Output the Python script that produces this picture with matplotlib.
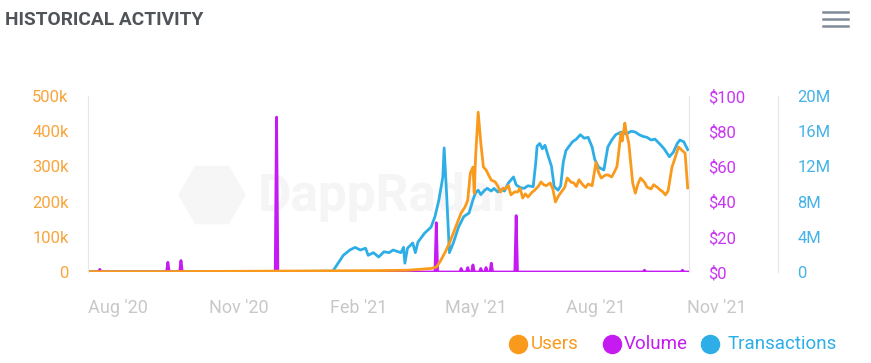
import matplotlib
matplotlib.use("Agg")
import matplotlib.pyplot as plt
import matplotlib.dates as mdates
import matplotlib.transforms as mtransforms
from matplotlib.lines import Line2D
from matplotlib.patches import RegularPolygon
import pandas as pd

plt.rcParams['font.family'] = ['Roboto', 'DejaVu Sans']

# ---- data ----
users_dates = ['2020-07-09', '2020-09-01', '2020-11-01', '2021-01-01', '2021-02-15',
               '2021-03-10', '2021-03-28', '2021-04-01', '2021-04-04', '2021-04-08',
               '2021-04-11', '2021-04-15', '2021-04-20', '2021-04-23', '2021-04-25',
               '2021-04-27', '2021-04-29', '2021-04-30', '2021-05-01', '2021-05-03',
               '2021-05-05', '2021-05-07', '2021-05-09', '2021-05-11', '2021-05-13',
               '2021-05-16', '2021-05-18', '2021-05-20', '2021-05-22', '2021-05-24',
               '2021-05-26', '2021-05-28', '2021-05-31', '2021-06-02', '2021-06-04',
               '2021-06-06', '2021-06-08', '2021-06-10', '2021-06-13', '2021-06-15',
               '2021-06-18', '2021-06-20', '2021-06-22', '2021-06-24', '2021-06-27',
               '2021-06-29', '2021-07-01', '2021-07-03', '2021-07-05', '2021-07-08',
               '2021-07-10', '2021-07-13', '2021-07-15', '2021-07-17', '2021-07-19',
               '2021-07-22', '2021-07-24', '2021-07-26', '2021-07-29', '2021-08-01',
               '2021-08-03', '2021-08-05', '2021-08-08', '2021-08-10', '2021-08-13',
               '2021-08-15', '2021-08-17', '2021-08-18', '2021-08-20', '2021-08-21',
               '2021-08-23', '2021-08-24', '2021-08-26', '2021-08-29', '2021-08-31',
               '2021-09-02', '2021-09-04', '2021-09-07', '2021-09-09', '2021-09-12',
               '2021-09-14', '2021-09-17', '2021-09-19', '2021-09-21', '2021-09-23',
               '2021-09-25', '2021-09-28', '2021-09-30', '2021-10-03', '2021-10-05',
               '2021-10-08', '2021-10-10']
users = [1, 1, 2, 3, 4,
         5, 10, 14, 30, 58,
         82, 120, 168, 185, 204,
         281, 298, 224, 327, 454,
         366, 298, 290, 275, 261,
         256, 244, 227, 238, 236,
         246, 219, 228, 227, 238,
         210, 222, 213, 226, 232,
         244, 256, 248, 245, 253,
         236, 199, 214, 225, 240,
         267, 255, 253, 243, 262,
         247, 240, 250, 245, 312,
         282, 267, 275, 276, 270,
         284, 300, 330, 395, 372,
         423, 400, 366, 253, 224,
         250, 267, 255, 241, 236,
         248, 240, 233, 228, 219,
         230, 298, 320, 355, 348,
         338, 239]

tx_dates = ['2020-07-09', '2020-12-01', '2021-01-12', '2021-01-16', '2021-01-20',
            '2021-01-25', '2021-01-29', '2021-02-02', '2021-02-06', '2021-02-08',
            '2021-02-12', '2021-02-16', '2021-02-20', '2021-02-24', '2021-02-27',
            '2021-03-05', '2021-03-07', '2021-03-08', '2021-03-10', '2021-03-14',
            '2021-03-16', '2021-03-18', '2021-03-23', '2021-03-28', '2021-03-31',
            '2021-04-03', '2021-04-06', '2021-04-07', '2021-04-09', '2021-04-11',
            '2021-04-14', '2021-04-18', '2021-04-22', '2021-04-26', '2021-04-29',
            '2021-05-01', '2021-05-03', '2021-05-05', '2021-05-08', '2021-05-10',
            '2021-05-13', '2021-05-15', '2021-05-18', '2021-05-21', '2021-05-23',
            '2021-05-26', '2021-05-30', '2021-06-01', '2021-06-04', '2021-06-07',
            '2021-06-10', '2021-06-14', '2021-06-16', '2021-06-17', '2021-06-19',
            '2021-06-21', '2021-06-23', '2021-06-25', '2021-06-28', '2021-06-30',
            '2021-07-03', '2021-07-05', '2021-07-07', '2021-07-09', '2021-07-11',
            '2021-07-14', '2021-07-17', '2021-07-20', '2021-07-23', '2021-07-26',
            '2021-07-29', '2021-07-31', '2021-08-03', '2021-08-07', '2021-08-10',
            '2021-08-13', '2021-08-16', '2021-08-20', '2021-08-24', '2021-08-28',
            '2021-08-31', '2021-09-03', '2021-09-06', '2021-09-09', '2021-09-12',
            '2021-09-15', '2021-09-19', '2021-09-22', '2021-09-26', '2021-09-29',
            '2021-10-02', '2021-10-04', '2021-10-07', '2021-10-10']
transactions = [0.03, 0.05, 0.1, 1.0, 1.9,
                2.5, 2.8, 2.5, 2.7, 1.9,
                2.2, 1.7, 2.3, 2.2, 2.5,
                2.2, 2.8, 1.0, 2.7, 3.3,
                2.2, 3.4, 4.4, 5.1, 6.3,
                8.2, 10.8, 14.1, 8.5, 2.2,
                3.3, 5.1, 6.3, 6.7, 8.2,
                9.0, 9.3, 8.8, 9.3, 9.5,
                9.2, 9.5, 9.1, 9.4, 9.2,
                10.1, 10.8, 9.9, 9.6, 9.5,
                9.8, 9.7, 12.5, 14.3, 14.6,
                14.0, 14.4, 13.4, 12.0, 9.7,
                9.3, 9.8, 12.5, 13.8, 14.2,
                14.8, 15.1, 15.6, 15.2, 15.3,
                14.2, 12.8, 11.9, 11.6, 14.2,
                15.0, 15.6, 15.9, 15.7, 16.0,
                15.9, 15.6, 15.4, 15.3, 15.0,
                15.1, 14.5, 14.0, 13.1, 13.6,
                14.6, 15.0, 14.8, 13.9]

# daily volume is zero except on these days
vol_dates = ['2020-07-18', '2020-09-08', '2020-09-18', '2020-11-30', '2021-04-01',
             '2021-04-20', '2021-04-25', '2021-04-29', '2021-05-05', '2021-05-09',
             '2021-05-13', '2021-06-01', '2021-09-07', '2021-10-06']
volume = [1.5, 5.5, 6.5, 88, 28,
          2, 2.5, 4, 2, 2.5,
          5, 32, 1, 1]

x_ticks = ['2020-08-01', '2020-11-01', '2021-02-01', '2021-05-01', '2021-08-01', '2021-11-01']
x_labels = ["Aug '20", "Nov '20", "Feb '21", "May '21", "Aug '21", "Nov '21"]

C_USERS = '#f99a1c'
C_VOL = '#c61af2'
C_TX = '#2eaee6'

W, H = 871, 363
fig = plt.figure(figsize=(W / 100, H / 100), dpi=100)
ax = fig.add_axes([88 / W, 1 - 272 / H, (689 - 88) / W, (272 - 96) / H])
ax2 = ax.twinx()
ax3 = ax.twinx()

vol = pd.Series(0.0, index=pd.date_range('2020-07-09', '2021-10-10', freq='D'))
vol[pd.to_datetime(vol_dates)] = volume

ax3.plot(pd.to_datetime(tx_dates), [t * 1e6 for t in transactions], color=C_TX, lw=2)
ax2.plot(vol.index, vol.values, color=C_VOL, lw=2)
ax.plot(pd.to_datetime(users_dates), [u * 1e3 for u in users], color=C_USERS, lw=2)

ax3.set_zorder(1)
ax2.set_zorder(2)
ax.set_zorder(3)
ax.patch.set_visible(False)
ax2.patch.set_visible(False)

ax.set_xlim(pd.Timestamp('2020-07-09'), pd.Timestamp('2021-10-11'))
ax.set_ylim(0, 500000)
ax2.set_ylim(0, 100)
ax3.set_ylim(0, 20e6)

ax.set_yticks([0, 100000, 200000, 300000, 400000, 500000])
ax.set_yticklabels(['0', '100k', '200k', '300k', '400k', '500k'])
ax2.set_yticks([0, 20, 40, 60, 80, 100])
ax2.set_yticklabels(['$0', '$20', '$40', '$60', '$80', '$100'])
ax3.set_yticks([0, 4e6, 8e6, 12e6, 16e6, 20e6])
ax3.set_yticklabels(['0', '4M', '8M', '12M', '16M', '20M'])

fs = 12
ax.tick_params(axis='y', length=0, pad=14, labelsize=fs, labelcolor='#f9a43c')
ax2.tick_params(axis='y', length=0, pad=14, labelsize=fs, labelcolor='#c935f4')
ax3.tick_params(axis='y', length=0, pad=14, labelsize=fs, labelcolor='#45b3e8')

for a in (ax, ax2, ax3):
    for s in ('top', 'bottom', 'left', 'right'):
        a.spines[s].set_visible(False)
ax.spines['left'].set_visible(True)
ax.spines['left'].set_color('#e6e6e6')
ax2.spines['right'].set_visible(True)
ax2.spines['right'].set_color('#e6e6e6')
ax3.spines['right'].set_visible(True)
ax3.spines['right'].set_color('#e6e6e6')
ax3.spines['right'].set_position(('axes', (778 - 88) / (689 - 88)))

# x axis: last tick falls past the plot edge, so draw labels as text
ax.set_xticks([])
trans = mtransforms.blended_transform_factory(ax.transData, ax.transAxes)
for d, lab in zip(x_ticks, x_labels):
    ax.text(mdates.date2num(pd.Timestamp(d)), -36 / 176, lab, transform=trans,
            ha='center', va='center', fontsize=13, color='#c8c8c8', clip_on=False)

# watermark
fig.add_artist(RegularPolygon((212, H - 195), 6, radius=33, orientation=0.5236,
                              transform=None, color='#f6f6f6', zorder=0))
fig.text(258 / W, 1 - 197 / H, 'DappRadar', fontsize=37, weight='bold',
         color='#f5f5f5', va='center', zorder=0)

# title and menu icon
fig.text(5 / W, 1 - 20 / H, 'HISTORICAL ACTIVITY', fontsize=13.8, weight='bold',
         color='#505458', va='center')
for yy in (12, 19, 26):
    fig.add_artist(Line2D([823 / W, 848 / W], [1 - yy / H] * 2, color='#7f8b99',
                          lw=1.8, transform=fig.transFigure))

# legend
legend_items = [('Users', C_USERS, 518, 531), ('Volume', C_VOL, 612, 624),
                ('Transactions', C_TX, 710, 728)]
for lab, col, cx, tx in legend_items:
    fig.add_artist(Line2D([cx / W], [1 - 344 / H], marker='o', ms=13, color=col,
                          lw=0, transform=fig.transFigure))
    fig.text(tx / W, 1 - 344 / H, lab, color=col, fontsize=13.5, va='center')

fig.savefig('out.png', dpi=100)
